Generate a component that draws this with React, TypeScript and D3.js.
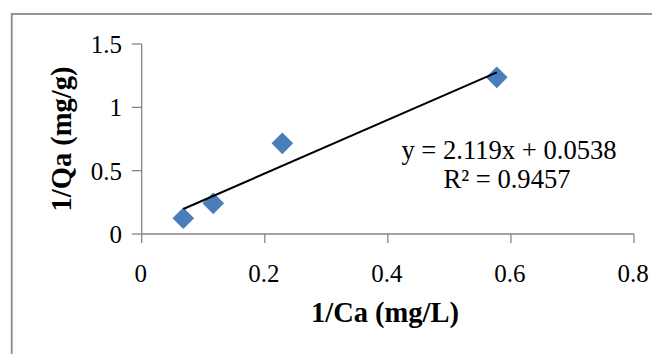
import React from "react";
import * as d3 from "d3";

const xValues = [0.0676, 0.1163, 0.2285, 0.577];
const yValues = [0.124, 0.242, 0.716, 1.237];
const xTicks = [0, 0.2, 0.4, 0.6, 0.8];
const yTicks = [0, 0.5, 1, 1.5];
const slope = 2.119;
const intercept = 0.0538;
const rSquared = 0.9457;

const W = 652;
const H = 354;
const FONT = "'Liberation Serif', 'Times New Roman', serif";
const AXIS = "#868686";
const BLUE = "#4a7ebb";

export default function App() {
  const x = d3.scaleLinear().domain([0, 0.8]).range([141.7, 634]);
  const y = d3.scaleLinear().domain([0, 1.5]).range([234, 44]);
  const x0 = x(0);
  const y0 = y(0);
  const xMin = d3.min(xValues) as number;
  const xMax = d3.max(xValues) as number;
  const trend = d3.line<number>()
    .x((d) => x(d))
    .y((d) => y(slope * d + intercept))([xMin, xMax]);
  const diamond = d3.symbol().type(d3.symbolSquare).size(15.3 * 15.3)();
  const fmt = (v: number) => String(v);

  return (
    <svg width={W} height={H} style={{ position: "absolute", left: 0, top: 0, background: "#fff" }}>
      <rect x={0} y={0} width={W} height={H} fill="#fff" />
      <rect x={11.7} y={14} width={W + 20} height={H + 20} fill="none" stroke="#8a8a8a" strokeWidth={1.8} />
      {/* y axis */}
      <line x1={x0} x2={x0} y1={y(1.5)} y2={y0} stroke={AXIS} strokeWidth={1.3} />
      {yTicks.map((t) => (
        <g key={"y" + t}>
          <line x1={x0 - 10} x2={x0} y1={y(t)} y2={y(t)} stroke={AXIS} strokeWidth={1.3} />
          <text x={122} y={y(t) + 9} textAnchor="end" fontFamily={FONT} fontSize={25} fill="#000">
            {fmt(t)}
          </text>
        </g>
      ))}
      {/* x axis */}
      <line x1={x0} x2={x(0.8)} y1={y0} y2={y0} stroke={AXIS} strokeWidth={1.3} />
      {xTicks.map((t) => (
        <g key={"x" + t}>
          <line x1={x(t)} x2={x(t)} y1={y0} y2={y0 + 9} stroke={AXIS} strokeWidth={1.3} />
          <text x={x(t) - 1} y={282} textAnchor="middle" fontFamily={FONT} fontSize={25} fill="#000">
            {fmt(t)}
          </text>
        </g>
      ))}
      {/* points */}
      {xValues.map((v, i) => (
        <path
          key={"p" + i}
          d={diamond as string}
          transform={`translate(${x(v)},${y(yValues[i])}) rotate(45)`}
          fill={BLUE}
        />
      ))}
      {/* trendline */}
      <path d={trend as string} fill="none" stroke="#000" strokeWidth={2} />
      {/* equation */}
      <text x={509} y={158.5} textAnchor="middle" fontFamily={FONT} fontSize={26.6} fill="#000">
        {`y = ${slope}x + ${intercept}`}
      </text>
      <text x={507} y={187.5} textAnchor="middle" fontFamily={FONT} fontSize={26.6} fill="#000">
        {`R² = ${rSquared}`}
      </text>
      {/* axis titles */}
      <text x={385} y={322} textAnchor="middle" fontFamily={FONT} fontSize={28.5} fontWeight="bold" fill="#000">
        1/Ca (mg/L)
      </text>
      <text
        transform="translate(71,139) rotate(-90)"
        textAnchor="middle"
        fontFamily={FONT}
        fontSize={28.5}
        fontWeight="bold"
        fill="#000"
      >
        1/Qa (mg/g)
      </text>
    </svg>
  );
}
